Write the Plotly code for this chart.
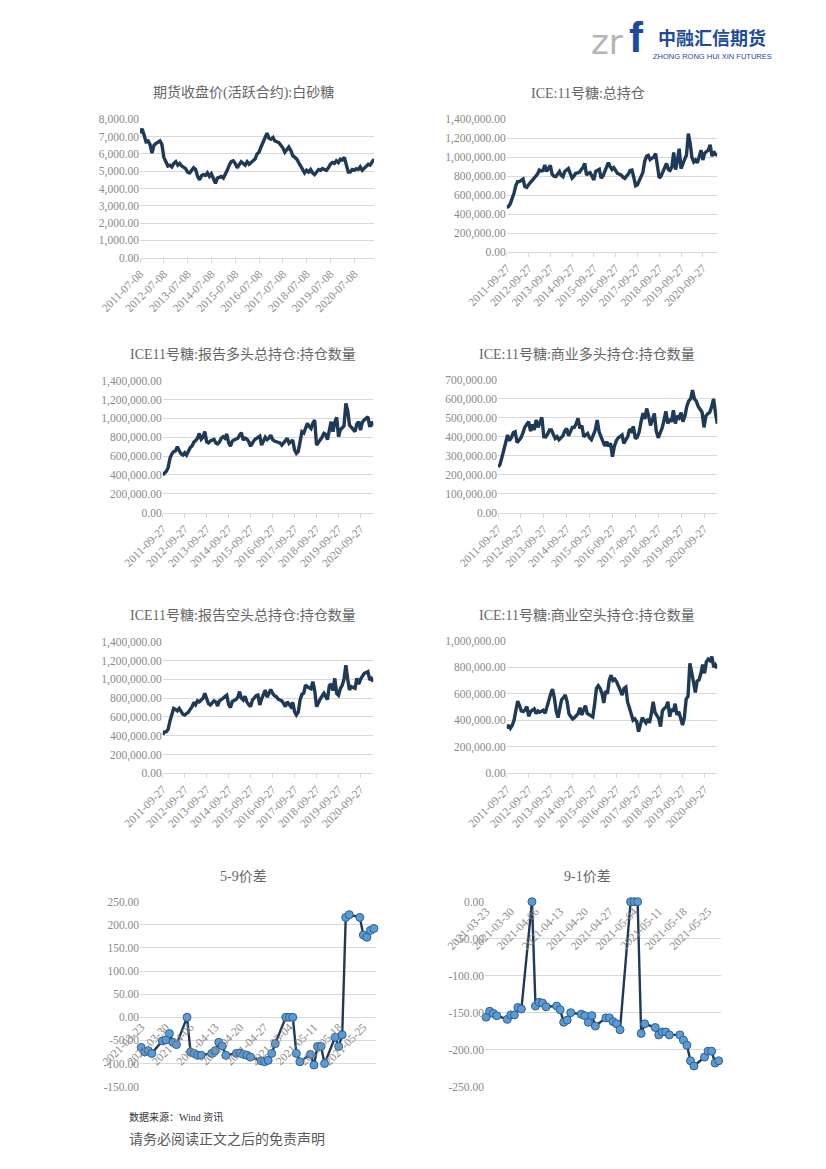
import plotly.graph_objects as go
import pandas as pd

W, H = 826, 1169
OX, OY = 8, 8  # page body margin offset
LINE = "#1f3a56"
GRID = "#d9d9d9"
TICKC = "#8a8a8a"
TITLEC = "#666666"
NUMFONT = "Liberation Serif, Noto Sans CJK SC"
TITLEFONT = "Liberation Serif, Noto Sans CJK SC"

# ---------------- data ----------------
# 期货收盘价(活跃合约):白砂糖, monthly from 2011-07-08
sugar_price = [7200, 7450, 7100, 6700, 6750, 6550, 6050, 6500, 6600, 6650, 6750, 6550,
               5800, 5550, 5300, 5350, 5250, 5450, 5550, 5350, 5450, 5300, 5200, 5150,
               4950, 4900, 5050, 5200, 5100, 4700, 4500, 4750, 4800, 4750, 4900, 4700,
               4850, 4550, 4300, 4600, 4650, 4700, 4600, 4800, 5050, 5350, 5550, 5600,
               5450, 5200, 5400, 5550, 5450, 5350, 5550, 5400, 5500, 5600, 5700, 6000,
               6100, 6400, 6700, 6900, 7200, 6900, 6850, 6950, 6750, 6700, 6650, 6500,
               6350, 6100, 6300, 6400, 6200, 5900, 5800, 5700, 5500, 5300, 5150, 4900,
               5050, 4950, 5100, 4900, 4800, 4950, 5100, 5050, 5150, 5100, 5050, 5200,
               5400, 5500, 5450, 5600, 5500, 5700, 5650, 5800, 5450, 4950, 4950, 5100,
               5050, 5150, 5100, 5250, 5050, 5150, 5300, 5400, 5350, 5500, 5700]
sugar_start = "2011-07-08"

# ICE:11号糖:总持仓 (thousand lots), monthly from 2011-09-27
ice_total_oi_k = [470, 480, 510, 560, 620, 700, 742, 742, 755, 770, 690, 682, 710, 730, 755, 770,
                  800, 825, 865, 855, 860, 918, 850, 880, 915, 820, 800, 795, 830, 848, 810, 795,
                  850, 870, 880, 830, 780, 800, 830, 835, 840, 870, 890, 935, 812, 830, 837, 800,
                  760, 850, 860, 872, 780, 800, 848, 900, 943, 900, 870, 890, 860, 830, 820, 812,
                  790, 777, 800, 823, 860, 865, 788, 700, 710, 760, 800, 840, 960, 1010, 1020, 975,
                  990, 1000, 1040, 900, 780, 800, 860, 890, 935, 870, 860, 900, 1050, 870, 960, 1090,
                  880, 940, 980, 1020, 1250, 1150, 1000, 950, 970, 940, 1000, 1075, 970, 1040, 1060,
                  1075, 1130, 1010, 1060, 1030, 1020]

# ICE11号糖:报告多头总持仓:持仓数量 (thousand)
report_long_k = [400, 415, 440, 480, 580, 625, 648, 655, 700, 660, 625, 612, 636, 612, 660, 690,
                 707, 750, 765, 790, 841, 780, 800, 860, 750, 740, 760, 770, 778, 740, 730, 750,
                 790, 806, 790, 834, 740, 707, 760, 772, 778, 790, 823, 848, 770, 790, 780, 753,
                 705, 740, 770, 785, 795, 813, 717, 772, 800, 775, 790, 823, 775, 760, 753, 753,
                 740, 717, 742, 760, 788, 735, 750, 770, 665, 629, 650, 760, 859, 845, 900, 947,
                 915, 894, 950, 983, 717, 740, 775, 800, 841, 830, 775, 900, 965, 860, 960, 1011,
                 806, 880, 900, 920, 1159, 1080, 930, 905, 880, 860, 940, 965, 875, 960, 983, 1000,
                 1018, 910, 965, 919]

# ICE:11号糖:商业多头持仓:持仓数量 (thousand)
comm_long_k = [243, 252, 290, 330, 380, 410, 380, 395, 422, 427, 370, 380, 395, 420, 450, 465,
               480, 430, 465, 436, 489, 450, 478, 503, 401, 400, 415, 436, 436, 410, 392, 401,
               385, 395, 405, 430, 445, 405, 427, 450, 450, 470, 498, 445, 460, 401, 410, 418,
               395, 385, 410, 436, 489, 427, 401, 370, 352, 375, 350, 366, 295, 350, 380, 395,
               405, 410, 366, 383, 400, 440, 430, 455, 390, 398, 425, 480, 525, 495, 550, 510,
               460, 490, 524, 430, 395, 420, 445, 485, 535, 470, 495, 480, 540, 470, 510, 500,
               528, 480, 510, 560, 590, 600, 647, 600, 588, 560, 545, 530, 450, 510, 522, 530,
               560, 600, 530, 470]

# ICE11号糖:报告空头总持仓:持仓数量 (thousand)
report_short_k = [411, 440, 443, 470, 560, 640, 690, 680, 665, 690, 660, 630, 620, 635, 650, 680,
                  709, 755, 730, 770, 760, 780, 798, 851, 790, 740, 727, 755, 770, 760, 716, 770,
                  790, 798, 815, 830, 730, 700, 765, 778, 785, 810, 869, 800, 780, 820, 760, 730,
                  709, 780, 810, 825, 833, 727, 790, 840, 886, 810, 851, 893, 850, 825, 815, 790,
                  780, 770, 744, 709, 760, 740, 709, 755, 656, 620, 650, 780, 840, 855, 939, 920,
                  910, 900, 975, 880, 709, 760, 790, 820, 851, 815, 785, 930, 950, 880, 1010, 850,
                  830, 900, 935, 1000, 1150, 1000, 886, 922, 910, 904, 1010, 950, 1000, 1030, 1063,
                  1070, 1081, 993, 1010, 975]

# ICE:11号糖:商业空头持仓:持仓数量 (thousand)
comm_short_k = [339, 364, 340, 360, 400, 480, 545, 510, 470, 465, 477, 503, 430, 465, 477, 485,
                450, 470, 460, 470, 475, 452, 510, 550, 600, 635, 570, 470, 420, 480, 555, 570,
                590, 540, 450, 427, 410, 420, 440, 450, 495, 440, 477, 510, 452, 442, 430, 425,
                520, 640, 660, 641, 603, 530, 620, 600, 700, 740, 700, 710, 690, 650, 625, 590,
                640, 650, 540, 495, 455, 400, 410, 390, 314, 364, 420, 400, 380, 410, 380, 450,
                540, 460, 440, 414, 352, 470, 490, 500, 540, 427, 485, 465, 525, 440, 465, 402,
                364, 420, 560, 580, 829, 760, 700, 610, 695, 704, 750, 820, 754, 840, 860, 850,
                880, 800, 817, 791]
cot_start = "2011-09-27"

# spreads (daily, 2021)
spread_dates = ["2021-03-23", "2021-03-24", "2021-03-25", "2021-03-26", "2021-03-29", "2021-03-30",
                "2021-03-31", "2021-04-01", "2021-04-02", "2021-04-05", "2021-04-06", "2021-04-07",
                "2021-04-08", "2021-04-09", "2021-04-12", "2021-04-13", "2021-04-14", "2021-04-15",
                "2021-04-16", "2021-04-19", "2021-04-20", "2021-04-21", "2021-04-22", "2021-04-23",
                "2021-04-26", "2021-04-27", "2021-04-28", "2021-04-29", "2021-04-30", "2021-05-03",
                "2021-05-04", "2021-05-05", "2021-05-06", "2021-05-07", "2021-05-10", "2021-05-11",
                "2021-05-12", "2021-05-13", "2021-05-14", "2021-05-17", "2021-05-18", "2021-05-19",
                "2021-05-20", "2021-05-21", "2021-05-24", "2021-05-25", "2021-05-26", "2021-05-27",
                "2021-05-28"]
spread_59 = [-65, -75, -72, -78, -51, -49, -35, -54, -59, 0, -75, -78, -82, -82, -78, -72, -54, -62,
             -82, -78, -77, -80, -82, -86, -94, -96, -93, -78, -57, 0, 0, 0, -78, -96, -80, -103,
             -63, -63, -100, -43, -63, -38, 216, 222, 216, 178, 173, 188, 192]
spread_91 = [-156, -148, -151, -154, -159, -153, -153, -143, -145, 0, -141, -136, -137, -142, -141,
             -146, -163, -160, -150, -152, -154, -163, -154, -168, -157, -157, -162, -165, -173, 0,
             0, 0, -178, -165, -170, -180, -176, -176, -180, -180, -187, -194, -215, -222, -210,
             -202, -202, -218, -215]

# tick labels
xt_0708 = ["2011-07-08", "2012-07-08", "2013-07-08", "2014-07-08", "2015-07-08", "2016-07-08",
           "2017-07-08", "2018-07-08", "2019-07-08", "2020-07-08"]
xt_0927 = ["2011-09-27", "2012-09-27", "2013-09-27", "2014-09-27", "2015-09-27", "2016-09-27",
           "2017-09-27", "2018-09-27", "2019-09-27", "2020-09-27"]
xt_spread = ["2021-03-23", "2021-03-30", "2021-04-06", "2021-04-13", "2021-04-20", "2021-04-27",
             "2021-05-04", "2021-05-11", "2021-05-18", "2021-05-25"]
yt_price = [0, 1000, 2000, 3000, 4000, 5000, 6000, 7000, 8000]
yt_oi = [0, 200000, 400000, 600000, 800000, 1000000, 1200000, 1400000]
yt_cl = [0, 100000, 200000, 300000, 400000, 500000, 600000, 700000]
yt_cs = [0, 200000, 400000, 600000, 800000, 1000000]
yt_59 = [-150, -100, -50, 0, 50, 100, 150, 200, 250]
yt_91 = [-250, -200, -150, -100, -50, 0]

titles = ["期货收盘价(活跃合约):白砂糖", "ICE:11号糖:总持仓",
          "ICE11号糖:报告多头总持仓:持仓数量", "ICE:11号糖:商业多头持仓:持仓数量",
          "ICE11号糖:报告空头总持仓:持仓数量", "ICE:11号糖:商业空头持仓:持仓数量",
          "5-9价差", "9-1价差"]


def monthly(start, n):
    return pd.date_range(start=start, periods=n, freq=pd.DateOffset(months=1))


def k(vals):
    return [v * 1000 for v in vals]


def fx(px):
    return (px - OX) / W


def fy(py):
    return 1 - (py - OY) / H


# layout geometry in pixels: (x0, x1, ytop, ybottom), title center
panels = [
    dict(x=monthly(sugar_start, len(sugar_price)), y=sugar_price, yt=yt_price, xt=xt_0708,
         box=(140, 374, 119.3, 257.7), tc=(243, 93), kind="ts"),
    dict(x=monthly(cot_start, len(ice_total_oi_k)), y=k(ice_total_oi_k), yt=yt_oi, xt=xt_0927,
         box=(506.7, 717.3, 119.3, 252), tc=(588, 94), kind="ts"),
    dict(x=monthly(cot_start, len(report_long_k)), y=k(report_long_k), yt=yt_oi, xt=xt_0927,
         box=(162.7, 373.3, 380.7, 512.7), tc=(243, 354), kind="ts"),
    dict(x=monthly(cot_start, len(comm_long_k)), y=k(comm_long_k), yt=yt_cl, xt=xt_0927,
         box=(498, 717.3, 380, 512.7), tc=(587, 354), kind="ts"),
    dict(x=monthly(cot_start, len(report_short_k)), y=k(report_short_k), yt=yt_oi, xt=xt_0927,
         box=(162.7, 373.3, 641.7, 773.3), tc=(243, 615), kind="ts"),
    dict(x=monthly(cot_start, len(comm_short_k)), y=k(comm_short_k), yt=yt_cs, xt=xt_0927,
         box=(506.7, 717.3, 640.7, 773.3), tc=(587, 615), kind="ts"),
    dict(x=spread_dates, y=spread_59, yt=yt_59, xt=xt_spread,
         box=(140, 376, 901.7, 1086.7), tc=(243, 876), kind="sp"),
    dict(x=spread_dates, y=spread_91, yt=yt_91, xt=xt_spread,
         box=(485, 720.7, 901.7, 1086.7), tc=(587, 876), kind="sp"),
]

fig = go.Figure()
layout = dict(width=W, height=H, margin=dict(l=0, r=0, t=0, b=0, pad=0, autoexpand=False),
              paper_bgcolor="white", plot_bgcolor="white", showlegend=False)
annotations = []
tickfont = dict(family=NUMFONT, size=11.5, color=TICKC)

for i, p in enumerate(panels):
    n = "" if i == 0 else str(i + 1)
    x0, x1, yt, yb = p["box"]
    xd = [fx(x0), fx(x1)]
    yd = [fy(yb), fy(yt)]
    if p["kind"] == "ts":
        fig.add_trace(go.Scatter(x=p["x"], y=p["y"], mode="lines",
                                 line=dict(color=LINE, width=3.4),
                                 xaxis="x" + n, yaxis="y" + n, hoverinfo="skip"))
        layout["xaxis" + n] = dict(domain=xd, anchor="y" + n, type="date",
                                   range=[p["x"][0], p["x"][-1]],
                                   tickmode="array", tickvals=p["xt"], ticktext=p["xt"],
                                   tickangle=-45, tickfont=tickfont, showgrid=False,
                                   showline=True, linecolor=GRID, linewidth=1,
                                   ticks="outside", ticklen=4, tickcolor=GRID,
                                   zeroline=False, fixedrange=True, automargin=False)
    else:
        fig.add_trace(go.Scatter(x=p["x"], y=p["y"], mode="lines+markers",
                                 line=dict(color=LINE, width=2.4),
                                 marker=dict(symbol="circle", size=8, color="#5b9bd5",
                                             line=dict(color="#2f5f8f", width=1)),
                                 cliponaxis=False,
                                 xaxis="x" + n, yaxis="y" + n, hoverinfo="skip"))
        lo, hi = p["yt"][0], p["yt"][-1]
        frac = (0 - lo) / (hi - lo)
        pos = yd[0] + frac * (yd[1] - yd[0])
        layout["xaxis" + n] = dict(domain=xd, anchor="free", position=pos, type="date",
                                   range=["2021-03-22 16:00", "2021-05-28 14:00"],
                                   tickmode="array", tickvals=p["xt"], ticktext=p["xt"],
                                   tickangle=-45, tickfont=tickfont, showgrid=False,
                                   showline=False, ticks="", zeroline=False, fixedrange=True,
                                   automargin=False)
    layout["yaxis" + n] = dict(domain=yd, anchor="x" + n,
                               range=[p["yt"][0], p["yt"][-1]],
                               tickmode="array", tickvals=p["yt"],
                               ticktext=[f"{v:,.2f}" for v in p["yt"]],
                               tickfont=tickfont, showgrid=True, gridcolor=GRID, gridwidth=1,
                               zeroline=False, showline=False, ticks="", fixedrange=True,
                               automargin=False)
    annotations.append(dict(text=titles[i], x=fx(p["tc"][0]), y=fy(p["tc"][1]),
                            xref="paper", yref="paper", xanchor="center", yanchor="middle",
                            showarrow=False,
                            font=dict(family=TITLEFONT, size=14, color=TITLEC)))

# logo
BLUE = "#1d4b9b"
annotations += [
    dict(text="zr", x=fx(607), y=fy(42), xref="paper", yref="paper", xanchor="center",
         yanchor="middle", showarrow=False,
         font=dict(family="DejaVu Sans", size=34, color="#b5b5b5")),
    dict(text="<b>f</b>", x=fx(636), y=fy(37), xref="paper", yref="paper", xanchor="center",
         yanchor="middle", showarrow=False,
         font=dict(family="Liberation Sans", size=42, color=BLUE)),
    dict(text="<b>中融汇信期货</b>", x=fx(712), y=fy(37), xref="paper", yref="paper",
         xanchor="center", yanchor="middle", showarrow=False,
         font=dict(family="Noto Sans CJK SC", size=18, color=BLUE)),
    dict(text="ZHONG RONG HUI XIN FUTURES", x=fx(712), y=fy(56), xref="paper", yref="paper",
         xanchor="center", yanchor="middle", showarrow=False,
         font=dict(family="Liberation Sans Narrow, Liberation Sans", size=7.5, color=BLUE)),
]

# footer
annotations += [
    dict(text="数据来源：Wind 资讯", x=fx(127), y=fy(1117), xref="paper", yref="paper",
         xanchor="left", yanchor="middle", showarrow=False,
         font=dict(family="Liberation Serif, Noto Sans CJK SC", size=10, color="#333333")),
    dict(text="请务必阅读正文之后的免责声明", x=fx(127), y=fy(1138), xref="paper", yref="paper",
         xanchor="left", yanchor="middle", showarrow=False,
         font=dict(family="Noto Sans CJK SC", size=14, color="#595959")),
]

layout["annotations"] = annotations
fig.update_layout(**layout)
fig.write_html("out.html")
